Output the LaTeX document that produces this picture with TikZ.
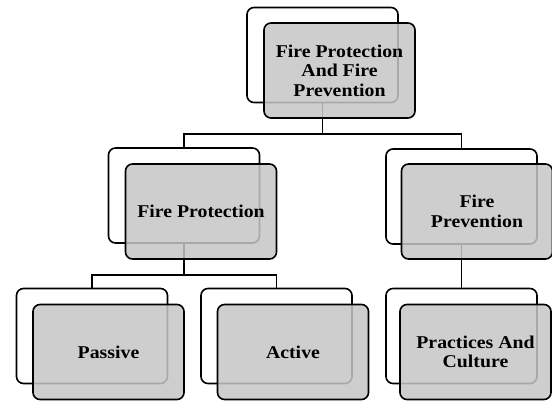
\documentclass[tikz,border=0pt]{standalone}
\usepackage{fontspec}
\setmainfont{Liberation Serif}[FakeStretch=1.1]

\begin{document}
\begin{tikzpicture}[x=1pt,y=-1pt,
  backbox/.style={draw,line width=1.6pt,rounded corners=7pt,fill=white,
    minimum width=151pt,minimum height=95pt},
  frontbox/.style={draw,line width=1.6pt,rounded corners=7pt,fill=gray!45,
    fill opacity=0.85,text opacity=1,minimum width=151pt,minimum height=95pt,
    align=center,font=\bfseries\fontsize{18}{19.5}\selectfont},
  link/.style={line width=1.6pt}]
  \useasboundingbox (0,0) rectangle (552,401);

  % back boxes
  \node[backbox] (topback) at (322.5,55) {};
  \node[backbox] (protback) at (184,195.5) {};
  \node[backbox] (prevback) at (461.5,196.5) {};
  \node[backbox] (passback) at (92,336) {};
  \node[backbox] (actback) at (276.5,336) {};
  \node[backbox] (pracback) at (461.5,336) {};

  % connectors
  \coordinate (bar1) at (322.5,134);
  \coordinate (bar2) at (184,275);
  \draw[link] (topback.south) -- (bar1) -| (protback.north);
  \draw[link] (bar1) -| (prevback.north);
  \draw[link] (protback.south) -- (bar2) -| (passback.north);
  \draw[link] (bar2) -| (actback.north);
  \draw[link] (prevback.south) -- (pracback.north);

  % front boxes
  \node[frontbox] (top) at (339.5,70.5) {Fire Protection\\And Fire\\Prevention};
  \node[frontbox] (prot) at (201,211.5) {Fire Protection};
  \node[frontbox] (prev) at (477,211.5) {Fire\\Prevention};
  \node[frontbox] (pass) at (108.5,352) {Passive};
  \node[frontbox] (act) at (293,352) {Active};
  \node[frontbox] (prac) at (475.5,352) {Practices And\\Culture};
\end{tikzpicture}
\end{document}
